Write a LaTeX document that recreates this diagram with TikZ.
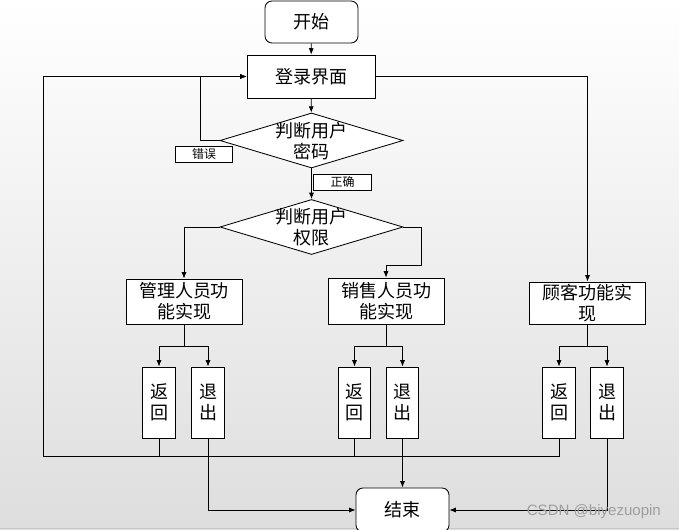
\documentclass[tikz,border=0pt]{standalone}
\usepackage{fontspec}
\newfontfamily\cjk{Noto Sans CJK SC}
\newfontfamily\wmfont{Liberation Sans}
\usetikzlibrary{shapes.geometric, arrows.meta, calc}

\begin{document}
\begin{tikzpicture}[x=0.025cm, y=-0.025cm, line width=0.6pt,
    >={Latex[length=4.5pt, width=3.6pt]},
    every node/.style={font=\cjk\fontsize{12.8}{15}\selectfont},
    startstop/.style={draw, fill=white, rounded corners=5pt, minimum width=2.325cm, minimum height=1.05cm},
    process/.style={draw, fill=white, align=center, inner sep=1pt, minimum width=2.9cm, minimum height=1.125cm},
    decision/.style={draw, fill=white, diamond, inner sep=0pt, minimum width=4.575cm, minimum height=1.375cm},
    choice/.style={draw, fill=white, align=center, inner sep=0pt, minimum width=0.82cm, minimum height=1.775cm},
    tag/.style={draw, fill=white, inner sep=0pt, minimum width=1.43cm, minimum height=0.4cm, font=\cjk\fontsize{8.5}{10}\selectfont}]

    % Background
    \shade[top color=white, bottom color=black!13] (0,0) rectangle (679,530);
    \useasboundingbox (0,0) rectangle (679,530);
    \draw[black!22] (0,528) -- (679,528);

    % Top part
    \node[startstop] (start) at (311.5,22) {开始};
    \node[draw, fill=white, minimum width=3.2cm, minimum height=1.075cm] (login) at (311,76.5) {登录界面};
    \node[decision] (pwd) at (311.5,140.5) {};
    \node[align=center] (pwdtxt) at (311.5,141) {判断用户\\密码};
    \node[tag] (wrong) at (204,154) {错误};
    \node[tag] (right) at (342.5,182) {正确};
    \node[decision] (role) at (311.5,227) {};
    \node[align=center] (roletxt) at (311.5,227.5) {判断用户\\权限};

    % Function boxes
    \node[process] (admin) at (184,301.5) {管理人员功\\能实现};
    \node[process, minimum height=1.15cm] (sales) at (386,301) {销售人员功\\能实现};
    \node[process, minimum height=1.05cm] (cust) at (587.5,303) {顾客功能实\\现};

    % Back / quit boxes
    \node[choice] (back1) at (159,402.5) {返\\回};
    \node[choice] (exit1) at (208,402.5) {退\\出};
    \node[choice] (back2) at (354.5,402.5) {返\\回};
    \node[choice] (exit2) at (402.5,402.5) {退\\出};
    \node[choice] (back3) at (559,402.5) {返\\回};
    \node[choice] (exit3) at (607,402.5) {退\\出};

    \node[startstop, minimum height=1.1cm] (end) at (402.5,510) {结束};

    % Main flow
    \draw[->] (start) -- (login);
    \draw[->] (login) -- (pwd);
    \draw[->] (pwd.west) -- ++(-19,0) |- (login.west); % wrong password
    \draw[->] (pwd.south) -- (role.north);
    \draw[->] (role.west) -| (admin.north);
    \draw[->] (role.east) -- ++(18,0) |- ($(sales.north)+(0,-12)$) -- (sales.north);
    \draw[->] (login.east) -| (cust.north);

    % Splits
    \draw (admin.south) -- ++(0,22) coordinate (split1);
    \draw[->] (split1) -| (back1.north);
    \draw[->] (split1) -| (exit1.north);
    \draw (sales.south) -- ++(0,22) coordinate (split2);
    \draw[->] (split2) -| (back2.north);
    \draw[->] (split2) -| (exit2.north);
    \draw (cust.south) -- ++(0,22) coordinate (split3);
    \draw[->] (split3) -| (back3.north);
    \draw[->] (split3) -| (exit3.north);

    % Return loop
    \coordinate (retcorner) at (43,456);
    \draw[->] (back3.south) |- (retcorner) |- (login.west);
    \draw (back1.south) -- (back1.south |- retcorner);
    \draw (back2.south) -- (back2.south |- retcorner);

    % Quit
    \draw[->] (exit1.south) |- (end.west);
    \draw[->] (exit2.south) -- (end.north);
    \draw[->] (exit3.south) |- (end.east);

    % Watermark
    \node[anchor=east, text=black!38, font=\wmfont\fontsize{10.7}{12}\selectfont] (mark) at (666,512) {CSDN @biyezuopin};
\end{tikzpicture}
\end{document}
